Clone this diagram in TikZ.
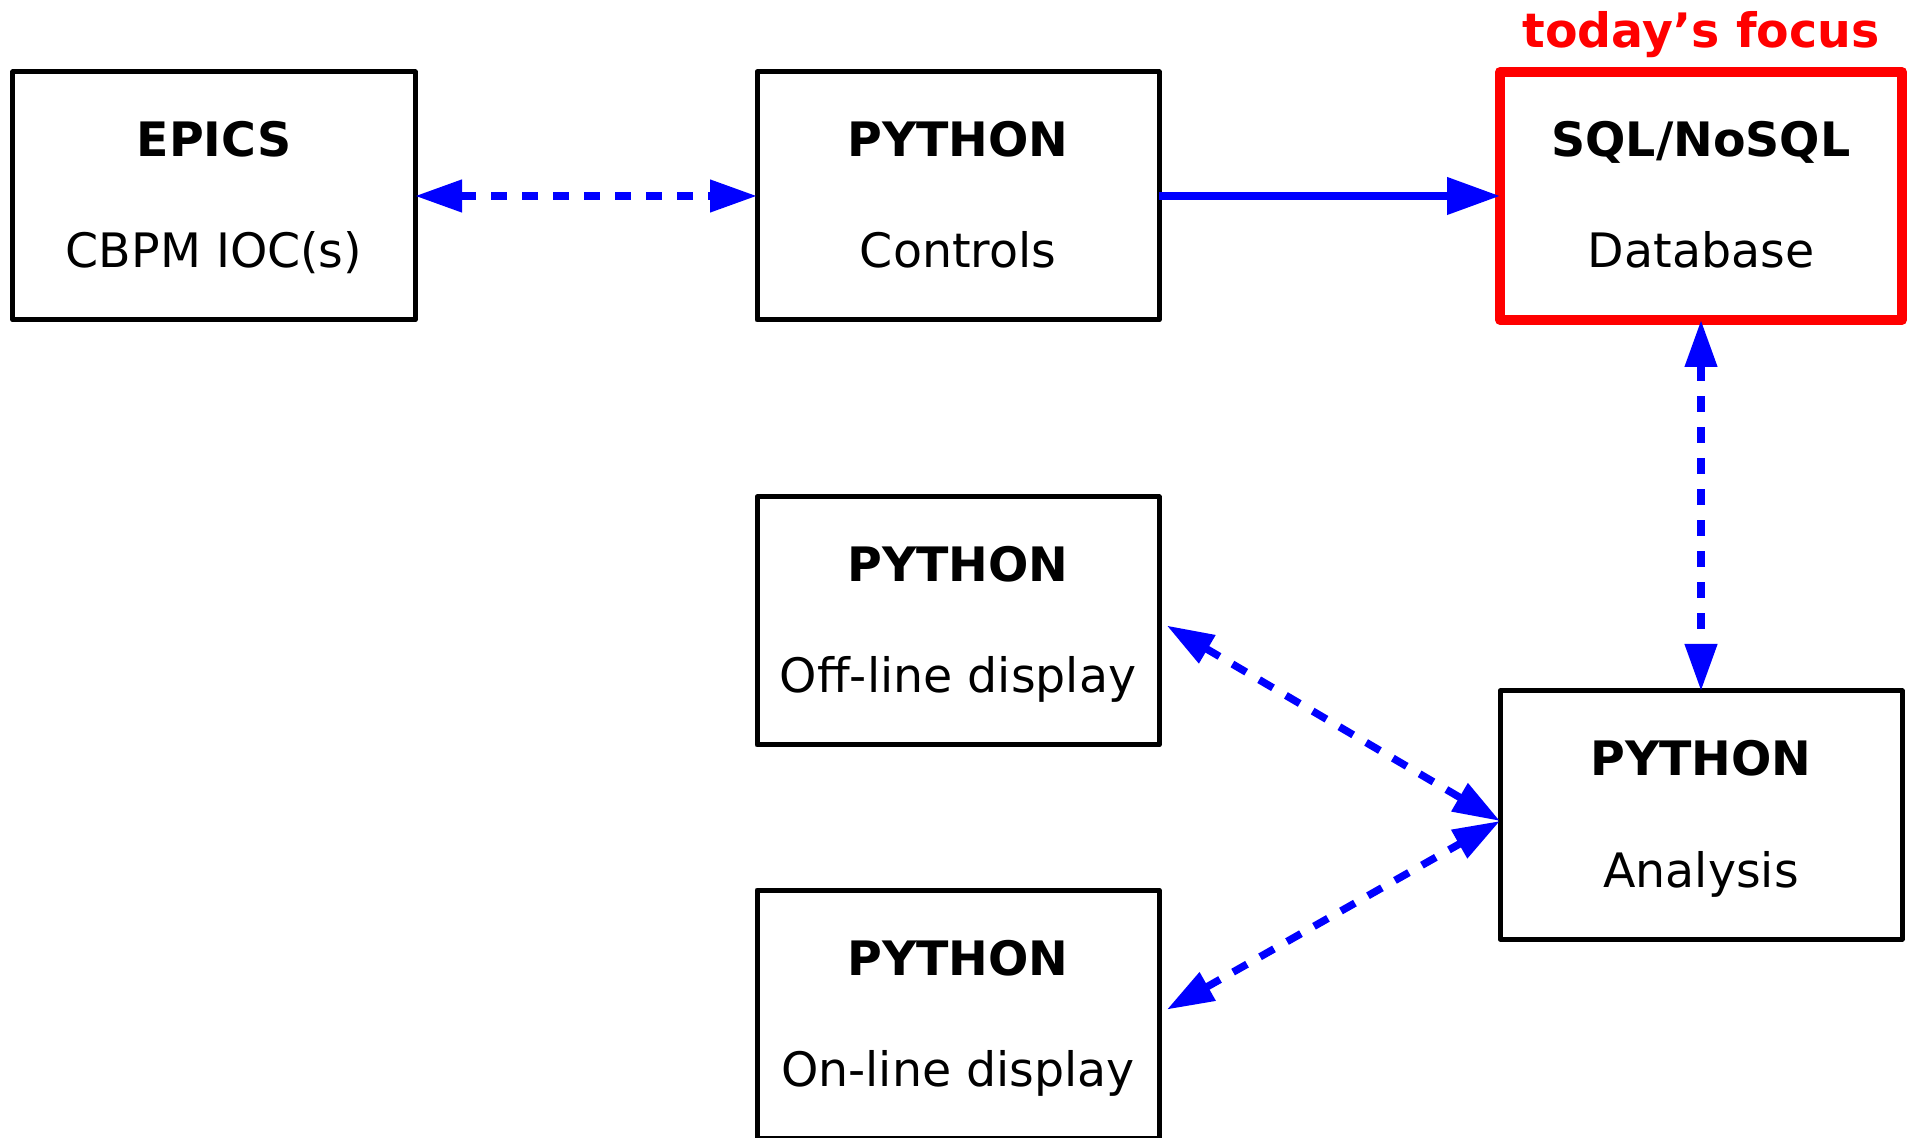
\documentclass[tikz,border=0pt]{standalone}
\usepackage{fontspec}
\setmainfont{DejaVu Sans}
\usetikzlibrary{arrows.meta}

\begin{document}
\begin{tikzpicture}[
        box/.style={draw, line width=0.05cm, line join=round, minimum width=4.02cm, minimum height=2.48cm, inner sep=0pt, outer sep=0pt},
        focusbox/.style={box, draw=red, line width=0.1cm},
        title/.style={anchor=base, inner sep=0pt, font=\bfseries\fontsize{13.5}{16}\selectfont},
        sub/.style={anchor=base, inner sep=0pt, font=\fontsize{13.5}{16}\selectfont},
        link/.style={blue, line width=0.075cm, dash pattern=on 0.16cm off 0.15cm,
            {Triangle[length=0.47cm,width=0.31cm]}-{Triangle[length=0.47cm,width=0.31cm]}},
        feed/.style={blue, line width=0.075cm, -{Triangle[length=0.53cm,width=0.36cm]}}
    ]
            \useasboundingbox (0,0) rectangle (19.11,11.37);

            % top row
            \node[box] (epics) at (2.14,9.41) {};
            \node[title] (epicsT) at ([yshift=0.39cm]epics.center) {EPICS};
            \node[sub] (epicsS) at ([yshift=-0.72cm]epics.center) {CBPM IOC(s)};

            \node[box] (controls) at (9.58,9.41) {};
            \node[title] (controlsT) at ([yshift=0.39cm]controls.center) {PYTHON};
            \node[sub] (controlsS) at ([yshift=-0.72cm]controls.center) {Controls};

            \node[focusbox] (database) at (17.01,9.41) {};
            \node[title] (databaseT) at ([yshift=0.39cm]database.center) {SQL/NoSQL};
            \node[sub] (databaseS) at ([yshift=-0.72cm]database.center) {Database};
            \node[title, red] (focus) at (17.01,10.89) {today’s focus};

            % displays and analysis
            \node[box] (offline) at (9.58,5.16) {};
            \node[title] (offlineT) at ([yshift=0.39cm]offline.center) {PYTHON};
            \node[sub] (offlineS) at ([yshift=-0.72cm]offline.center) {Off-line display};

            \node[box] (online) at (9.58,1.23) {};
            \node[title] (onlineT) at ([yshift=0.39cm]online.center) {PYTHON};
            \node[sub] (onlineS) at ([yshift=-0.72cm]online.center) {On-line display};

            \node[box] (analysis) at (17.01,3.22) {};
            \node[title] (analysisT) at ([yshift=0.39cm]analysis.center) {PYTHON};
            \node[sub] (analysisS) at ([yshift=-0.72cm]analysis.center) {Analysis};

            % connections
            \draw[link] (epics) -- (controls);
            \draw[feed] (controls) -- (database);
            \draw[link] (database) -- (analysis);
            \draw[link, shorten <=0.09cm] (offline.east) -- ([yshift=-0.06cm]analysis.west);
            \draw[link, shorten <=0.09cm] (online.east) -- ([yshift=-0.06cm]analysis.west);
        \end{tikzpicture}
\end{document}
